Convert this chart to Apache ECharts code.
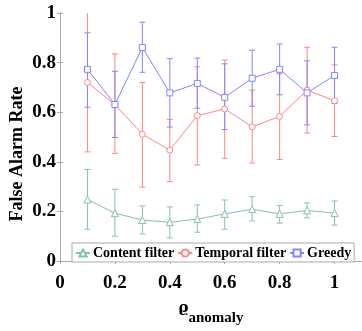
<!DOCTYPE html>
<html><head><meta charset="utf-8">
<script src="https://cdn.jsdelivr.net/npm/echarts@6/dist/echarts.min.js"></script>
<style>html,body{margin:0;padding:0;background:#fff}#c{width:362px;height:331px}</style>
</head><body><div id="c"></div>
<script>
const xs = [0.1,0.2,0.3,0.4,0.5,0.6,0.7,0.8,0.9,1.0];
const content   = [0.248,0.193,0.165,0.156,0.169,0.190,0.209,0.190,0.204,0.193];
const contentLo = [0.128,0.100,0.109,0.093,0.116,0.128,0.162,0.153,0.174,0.145];
const contentHi = [0.369,0.289,0.222,0.218,0.226,0.246,0.259,0.224,0.234,0.242];
const temporal   = [0.720,0.631,0.511,0.447,0.586,0.613,0.541,0.583,0.689,0.646];
const temporalLo = [0.440,0.434,0.298,0.320,0.387,0.414,0.395,0.409,0.516,0.502];
const temporalHi = [1.020,0.835,0.720,0.571,0.783,0.810,0.689,0.755,0.862,0.791];
const greedy   = [0.773,0.631,0.861,0.678,0.716,0.660,0.737,0.773,0.678,0.748];
const greedyLo = [0.620,0.498,0.761,0.540,0.616,0.530,0.624,0.670,0.549,0.635];
const greedyHi = [0.920,0.765,0.963,0.816,0.818,0.795,0.850,0.875,0.807,0.862];
const names = ['Content filter','Temporal filter','Greedy'];
const yTicks = [0,0.2,0.4,0.6,0.8,1];

const colors = ['#86c3a4','#ff8585','#8585ff'];
const symbols = ['triangle','circle','rect'];
const means = [content, temporal, greedy];
const los = [contentLo, temporalLo, greedyLo];
const his = [contentHi, temporalHi, greedyHi];
const FONT = "'Liberation Serif','Times New Roman',serif";

function errRender(color){
  return function(params, api){
    const x = api.value(0), lo = api.value(1), hi = api.value(2);
    const a = api.coord([x, hi]), b = api.coord([x, lo]);
    const w = 3;
    const st = {stroke: color, lineWidth: 1, fill: null};
    return {type:'group', children:[
      {type:'line', shape:{x1:a[0],y1:a[1],x2:b[0],y2:b[1]}, style:st},
      {type:'line', shape:{x1:a[0]-w,y1:a[1],x2:a[0]+w,y2:a[1]}, style:st},
      {type:'line', shape:{x1:b[0]-w,y1:b[1],x2:b[0]+w,y2:b[1]}, style:st}
    ]};
  };
}

const series = [];
for (let i=0;i<3;i++){
  series.push({
    type:'custom', name: names[i]+'_err', renderItem: errRender(colors[i]), clip:true,
    data: xs.map((x,k)=>[x, los[i][k], his[i][k]]), z: 2, silent:true
  });
}
for (let i=0;i<3;i++){
  series.push({
    type:'line', name: names[i], data: xs.map((x,k)=>[x, means[i][k]]),
    symbol: symbols[i], symbolSize: i===0?7:6, showAllSymbol:true,
    lineStyle:{color:colors[i], width:1},
    itemStyle:{color:'#fff', borderColor:colors[i], borderWidth:1},
    z: 3, clip:true
  });
}

const axisLine = {show:true, lineStyle:{color:'#aaaaaa', width:1}};
const tick = {show:true, inside:true, length:3, lineStyle:{color:'#aaaaaa'}};
const labelStyle = {fontFamily:FONT, fontWeight:'bold', fontSize:19, color:'#000'};

const chart = echarts.init(document.getElementById('c'), null, {renderer:'canvas'});
chart.setOption({
  animation:false,
  backgroundColor:'#fff',
  grid:{left:60, right:0, top:13, bottom:63, containLabel:false},
  legend:{
    data: names, left:72, top:243, width:287, height:21,
    padding:[3,3,2,3], itemGap:3, itemWidth:14, itemHeight:9,
    backgroundColor:'#fff', borderColor:'#aaaaaa', borderWidth:1,
    textStyle:{fontFamily:FONT, fontWeight:'bold', fontSize:14, color:'#000', padding:[0,0,0,-2]},
    z: 10
  },
  xAxis:[{
    type:'value', min:0, max:1.1, interval:0.2,
    axisLine, axisTick:tick, splitLine:{show:false},
    axisLabel:Object.assign({margin:13, showMaxLabel:false,
      formatter:v=> v>1.05?'':String(+v.toFixed(1))}, labelStyle),
    name:'{a|ϱ}{b|anomaly}', nameLocation:'middle', nameGap:40,
    nameTextStyle:{rich:{
      a:{fontFamily:"'DejaVu Serif','Liberation Serif',serif", fontWeight:'bold', fontSize:15, color:'#000', verticalAlign:'top', padding:[0,0,6,0]},
      b:{fontFamily:FONT, fontWeight:'bold', fontSize:15, color:'#000', verticalAlign:'bottom', padding:[10,0,0,0]}
    }}
  },{
    type:'value', position:'top', min:0, max:1.1, interval:0.2,
    axisLine, axisTick:tick, axisLabel:{show:false}, splitLine:{show:false}
  }],
  yAxis:[{
    type:'value', min:yTicks[0], max:yTicks[yTicks.length-1], interval:0.2,
    axisLine, axisTick:tick, splitLine:{show:false},
    axisLabel:Object.assign({margin:4}, labelStyle)
  },{
    type:'value', position:'right', min:0, max:1, interval:0.2,
    axisLine, axisTick:tick, axisLabel:{show:false}, splitLine:{show:false}
  }],
  graphic:[{
    type:'text', x:17, y:154, rotation:Math.PI/2, originX:0, originY:0,
    style:{text:'False Alarm Rate', fontFamily:FONT, fontWeight:'bold', fontSize:18, fill:'#000',
      align:'center', verticalAlign:'middle'}
  }],
  series
});
</script></body></html>
